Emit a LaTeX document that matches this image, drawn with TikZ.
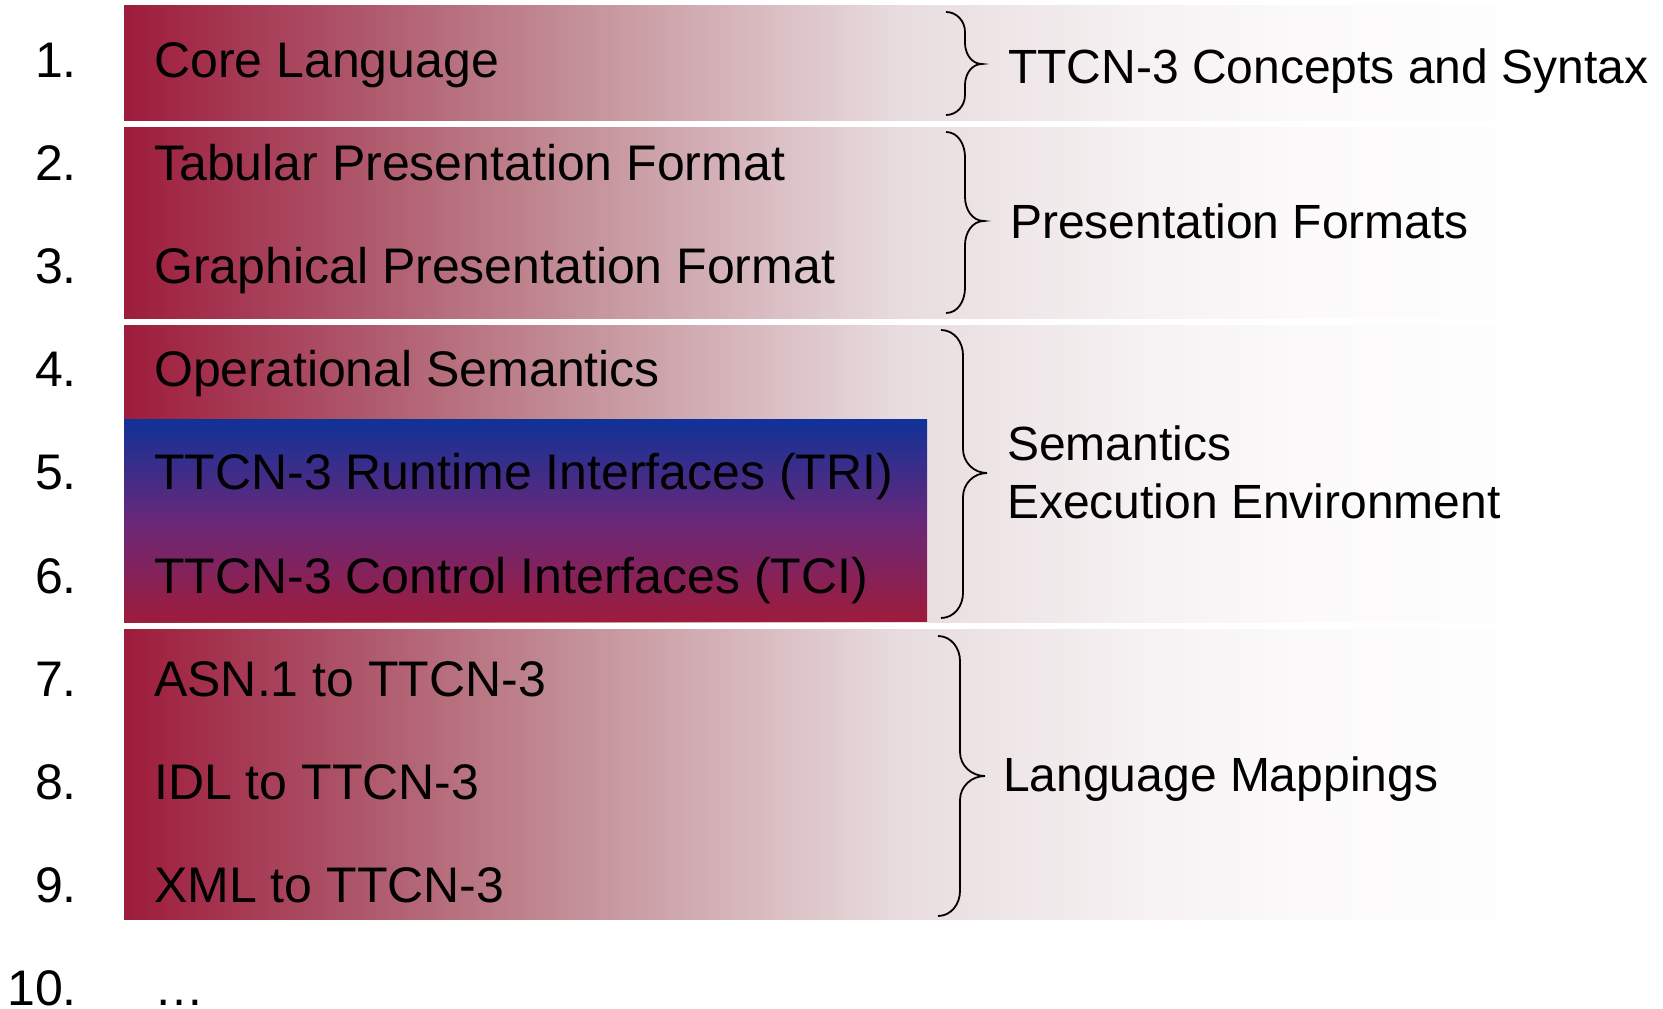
\documentclass[tikz,border=0pt]{standalone}
\usepackage{fontspec}
\setmainfont{Liberation Sans}
\definecolor{bandred}{RGB}{158,28,60}
\definecolor{tblue}{RGB}{16,50,152}
\definecolor{tpurple}{RGB}{104,40,122}
\definecolor{fadeA}{RGB}{173,84,104}
\definecolor{fadeB}{RGB}{194,140,149}
\definecolor{fadeC}{RGB}{232,220,222}
\definecolor{fadeD}{RGB}{246,242,243}
\definecolor{fadeE}{RGB}{252,250,250}
% red-to-white fade used by the four part bands (25bp..75bp span the band)
\pgfdeclarehorizontalshading{bandfade}{100bp}{%
  color(0bp)=(bandred); color(25bp)=(bandred);
  color(32.8bp)=(fadeA); color(40.1bp)=(fadeB); color(51.8bp)=(fadeC);
  color(60.5bp)=(fadeD); color(66.1bp)=(fadeE);
  color(75bp)=(white); color(100bp)=(white)}
% blue-to-red fade of the interfaces box (bottom to top)
\pgfdeclareverticalshading{ifacefade}{100bp}{%
  color(0bp)=(bandred); color(25bp)=(bandred);
  color(50bp)=(tpurple);
  color(75bp)=(tblue); color(100bp)=(tblue)}
\begin{document}
\begin{tikzpicture}[x=1pt,y=-1pt,
  num/.style={anchor=base east, inner sep=0pt, font=\fontsize{50}{60}\selectfont},
  item/.style={anchor=base west, inner sep=0pt, font=\fontsize{50}{60}\selectfont},
  group/.style={anchor=base west, inner sep=0pt, font=\fontsize{48}{58}\selectfont},
  bracestroke/.style={line width=1.8pt, black}]
\useasboundingbox (0,0) rectangle (1663,1009);
\clip (0,0) rectangle (1663,1009);

% part bands
\shade[shading=bandfade] (124,5) rectangle (1570,120);
\shade[shading=bandfade] (124,127) rectangle (1570,318);
\shade[shading=bandfade] (124,325) rectangle (1570,622);
\shade[shading=bandfade] (124,629) rectangle (1570,919);

% interfaces box
\shade[shading=ifacefade] (124,419) rectangle (927,621);

% numbering
\node[num] (n1) at (77,77) {1.};
\node[num] (n2) at (77,180) {2.};
\node[num] (n3) at (77,283) {3.};
\node[num] (n4) at (77,386) {4.};
\node[num] (n5) at (77,489) {5.};
\node[num] (n6) at (77,593) {6.};
\node[num] (n7) at (77,696) {7.};
\node[num] (n8) at (77,799) {8.};
\node[num] (n9) at (77,902) {9.};
\node[num] (n10) at (77,1005) {10.};

% parts
\node[item] (p1) at (154,77) {Core Language};
\node[item] (p2) at (154,180) {Tabular Presentation Format};
\node[item] (p3) at (154,283) {Graphical Presentation Format};
\node[item] (p4) at (154,386) {Operational Semantics};
\node[item] (p5) at (154,489) {TTCN-3 Runtime Interfaces (TRI)};
\node[item] (p6) at (154,593) {TTCN-3 Control Interfaces (TCI)};
\node[item] (p7) at (154,696) {ASN.1 to TTCN-3};
\node[item] (p8) at (154,799) {IDL to TTCN-3};
\node[item] (p9) at (154,902) {XML to TTCN-3};
\node[item] (p10) at (154,1005) {\dots};

% braces
\draw[bracestroke] (946,12) to[out=0,in=90] (965,32) -- (965,43)
  to[out=270,in=180] (982,64) to[out=180,in=90] (965,85) -- (965,95)
  to[out=270,in=0] (946,115);
\draw[bracestroke] (946,132) to[out=0,in=90] (965,157) -- (965,197)
  to[out=270,in=180] (984,221) to[out=180,in=90] (965,245) -- (965,288)
  to[out=270,in=0] (946,313);
\draw[bracestroke] (941,330) to[out=0,in=90] (963,355) -- (963,449)
  to[out=270,in=180] (987,473) to[out=180,in=90] (963,497) -- (963,593)
  to[out=270,in=0] (941,618);
\draw[bracestroke] (938,636) to[out=0,in=90] (960,661) -- (960,752)
  to[out=270,in=180] (985,776) to[out=180,in=90] (960,800) -- (960,891)
  to[out=270,in=0] (938,916);

% group labels
\node[group] (g1) at (1008,83) {TTCN-3 Concepts and Syntax};
\node[group] (g2) at (1010,238) {Presentation Formats};
\node[group] (g3) at (1007,460) {Semantics};
\node[group] (g4) at (1007,518) {Execution Environment};
\node[group] (g5) at (1003,791) {Language Mappings};
\end{tikzpicture}
\end{document}
